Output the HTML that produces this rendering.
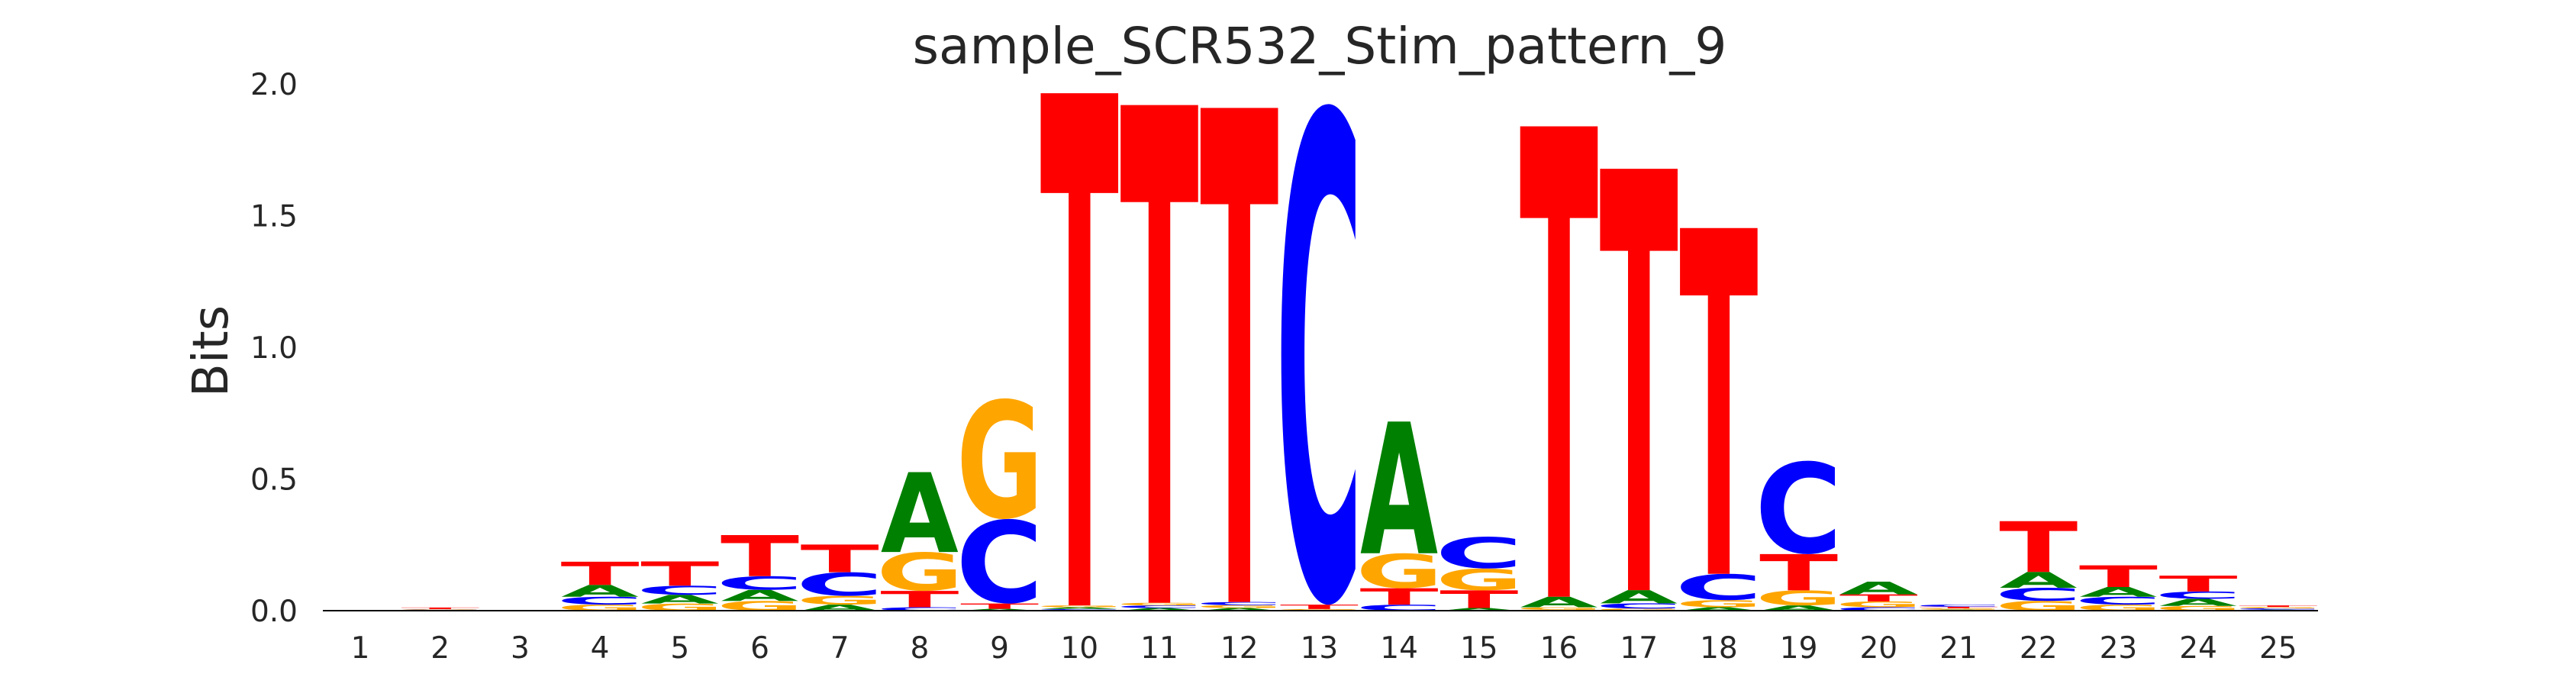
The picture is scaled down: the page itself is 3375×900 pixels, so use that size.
<!DOCTYPE html>
<html><head><meta charset="utf-8"><style>
html,body{margin:0;padding:0;background:#fff;overflow:hidden;width:3375px;height:900px;}
svg{display:block;}
text{font-family:"DejaVu Sans","Liberation Sans",sans-serif;}
</style></head><body>
<svg id="chart" width="3375" height="900" viewBox="0 0 3375 900" xmlns="http://www.w3.org/2000/svg">
<text x="1729" y="83" font-size="66" text-anchor="middle" fill="#262626">sample_SCR532_Stim_pattern_9</text>
<text x="0" y="0" font-size="64" text-anchor="middle" fill="#262626" transform="translate(298,460) rotate(-90)">Bits</text>
<g id="yticks"></g>
<g id="xticks"></g>
<g id="marks"></g>
<line x1="423" y1="800" x2="3037" y2="800" stroke="#000" stroke-width="2"/>
</svg>
<script>
const positions = [1,2,3,4,5,6,7,8,9,10,11,12,13,14,15,16,17,18,19,20,21,22,23,24,25];
const heightA = [0,0.002,0,0.045,0.033,0.042,0.023,0.303,0.007,0.007,0.01,0.01,0.003,0.5,0.01,0.04,0.05,0.013,0.02,0.048,0.004,0.06,0.037,0.027,0.004];
const heightC = [0,0.002,0,0.03,0.035,0.052,0.09,0.013,0.321,0.006,0.01,0.012,1.9,0.023,0.121,0.003,0.02,0.1,0.354,0.013,0.008,0.05,0.03,0.028,0.005];
const heightG = [0,0.002,0,0.023,0.027,0.037,0.033,0.148,0.458,0.007,0.01,0.011,0.003,0.133,0.083,0.01,0.008,0.027,0.057,0.022,0.005,0.037,0.023,0.018,0.005];
const heightT = [0,0.006,0,0.088,0.092,0.156,0.105,0.062,0.02,1.945,1.89,1.876,0.017,0.062,0.067,1.786,1.6,1.313,0.138,0.027,0.006,0.193,0.082,0.06,0.006];
const yTickValues = [0,0.5,1,1.5,2];
const yTickLabels = ["0.0","0.5","1.0","1.5","2.0"];

const NS = "http://www.w3.org/2000/svg";
const X0 = 472, DX = 104.7, Y0 = 800, PY = 345;
function xScale(p){ return X0 + (p-1)*DX; }
function yScale(v){ return Y0 - v*PY; }

const colors = {A:"#008000", C:"#0000ff", G:"#ffa500", T:"#ff0000"};
const bbox = {A:[0.01,0.765,0,0.729], C:[0.05,0.685,-0.014,0.742], G:[0.05,0.765,-0.014,0.742], T:[0.012,0.67,0,0.729]};

const yt = document.getElementById('yticks');
yTickValues.forEach((v,i)=>{
  const t = document.createElementNS(NS,'text');
  
  
  t.setAttribute('x',390); t.setAttribute('y',yScale(v)+14);
  t.setAttribute('font-size','39'); t.setAttribute('text-anchor','end'); t.setAttribute('fill','#262626');
  t.textContent = yTickLabels[i];
  yt.appendChild(t);
});
const xt = document.getElementById('xticks');
positions.forEach(p=>{
  const t = document.createElementNS(NS,'text');
  
  
  t.setAttribute('x',xScale(p)); t.setAttribute('y',862);
  t.setAttribute('font-size','39'); t.setAttribute('text-anchor','middle'); t.setAttribute('fill','#262626');
  t.textContent = String(p);
  xt.appendChild(t);
});
const g = document.getElementById('marks');
const W = 0.95*DX;
positions.forEach((p,i)=>{
  const col = [['A',heightA[i]],['C',heightC[i]],['G',heightG[i]],['T',heightT[i]]].sort((a,b)=>a[1]-b[1]);
  let cum = 0;
  col.forEach(([L,h])=>{
    if(h<=0){ return; }
    const bottom = yScale(cum), hp = h*PY;
    cum += h;
    const b = bbox[L];
    const sx = W/((b[1]-b[0])*100), sy = hp/((b[3]-b[2])*100);
    const left = xScale(p) - W/2;
    const t = document.createElementNS(NS,'text');
    
    
    t.setAttribute('x',0); t.setAttribute('y',0);
    t.setAttribute('font-size','100'); t.setAttribute('font-weight','bold'); t.setAttribute('fill',colors[L]);
    t.setAttribute('transform',`translate(${left},${bottom}) scale(${sx},${sy}) translate(${-b[0]*100},${b[2]*100})`);
    t.textContent = L;
    g.appendChild(t);
  });
});
</script>
</body></html>
